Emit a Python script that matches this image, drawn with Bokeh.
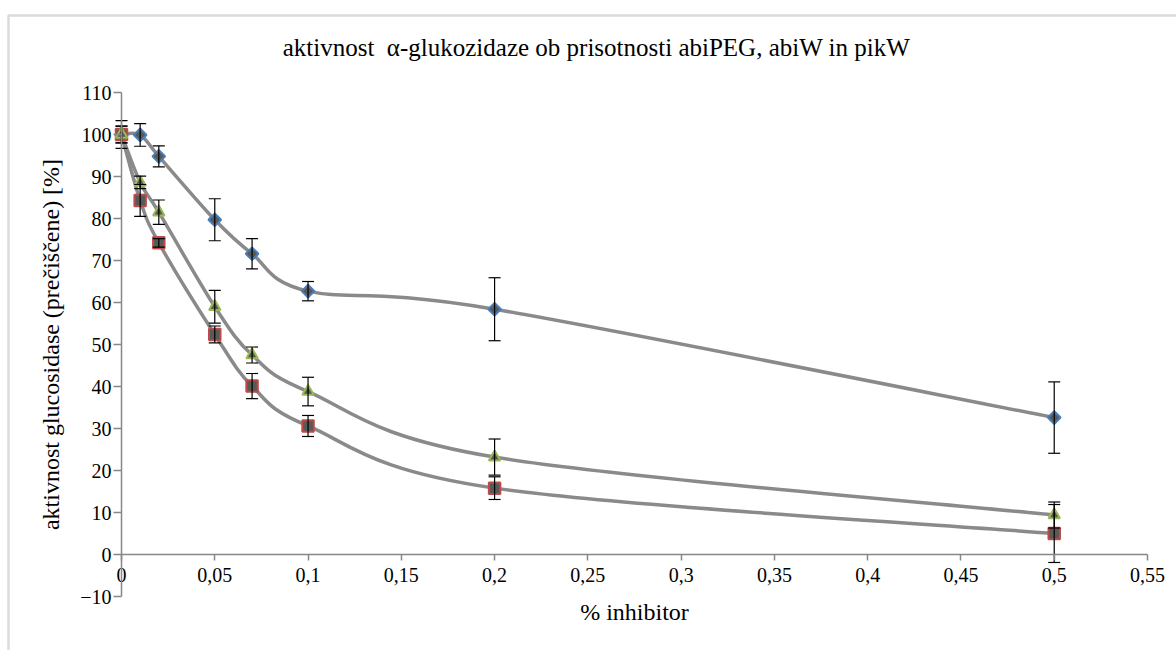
import numpy as np
from bokeh.plotting import figure
from bokeh.models import (Range1d, LinearAxis, FixedTicker, ColumnDataSource,
                          Whisker, TeeHead, Label, BoxAnnotation)
from bokeh.embed import file_html
from bokeh.resources import INLINE

# ---------------- data ----------------
x_vals = [0, 0.01, 0.02, 0.05, 0.07, 0.1, 0.2, 0.5]

abipeg = [100, 99.9, 94.8, 79.7, 71.6, 62.7, 58.4, 32.6]
abipeg_err = [3.3, 2.7, 2.5, 5.0, 3.6, 2.3, 7.5, 8.5]

abiw = [100, 84.3, 74.2, 52.4, 40.1, 30.6, 15.8, 5.0]
abiw_err = [2.0, 3.8, 1.0, 2.0, 3.0, 2.5, 2.7, 6.9]

pikw = [100, 88.6, 81.5, 59.0, 47.5, 38.8, 23.2, 9.4]
pikw_err = [2.0, 1.5, 2.9, 3.9, 1.9, 3.4, 4.3, 3.1]

x_ticks = [0, 0.05, 0.1, 0.15, 0.2, 0.25, 0.3, 0.35, 0.4, 0.45, 0.5, 0.55]
x_tick_labels = ["0", "0,05", "0,1", "0,15", "0,2", "0,25", "0,3", "0,35",
                 "0,4", "0,45", "0,5", "0,55"]
y_ticks = [-10, 0, 10, 20, 30, 40, 50, 60, 70, 80, 90, 100, 110]

title_text = "aktivnost\u00a0 \u03b1-glukozidaze ob prisotnosti abiPEG, abiW in pikW"
x_label = "% inhibitor"
y_label = "aktivnost glucosidase (pre\u010di\u0161\u010dene) [%]"

FONT = "Liberation Serif"
AXIS_GRAY = "#878787"
LINE_GRAY = "#8a8a8a"
FILL = "#595959"

# ---------------- layout (pixel anchors of the plot area) ----------------
W, H = 1176, 650
X0_PX, X1_PX = 121.0, 1147.0      # pixel of x=0 and x=0.55
Y0_PX, Y1_PX = 596.0, 92.0        # pixel of y=-10 and y=110
XMIN, XMAX, YMIN, YMAX = 0.0, 0.55, -10.0, 110.0
sx = (X1_PX - X0_PX) / (XMAX - XMIN)
sy = (Y0_PX - Y1_PX) / (YMAX - YMIN)
x_lo = XMIN - X0_PX / sx
x_hi = XMAX + (W - X1_PX) / sx
y_hi = YMAX + Y1_PX / sy
y_lo = YMIN - (H - Y0_PX) / sy

p = figure(width=W, height=H, output_backend="svg", toolbar_location=None,
           x_range=Range1d(x_lo, x_hi), y_range=Range1d(y_lo, y_hi),
           x_axis_location=None, y_axis_location=None,
           min_border=0, min_border_left=0, min_border_right=0,
           min_border_top=0, min_border_bottom=0)
p.grid.visible = False
p.outline_line_color = None
p.background_fill_color = "white"
p.border_fill_color = "white"


def style_axis(ax, tick_out):
    ax.axis_label_text_font = FONT
    ax.axis_label_text_font_size = "24px"
    ax.axis_label_text_font_style = "normal"
    ax.axis_label_text_color = "#000000"
    ax.major_label_text_font = FONT
    ax.major_label_text_font_size = "20px"
    ax.major_label_text_color = "#000000"
    ax.axis_line_color = AXIS_GRAY
    ax.axis_line_width = 1.5
    ax.major_tick_line_color = AXIS_GRAY
    ax.major_tick_line_width = 1.5
    ax.major_tick_in = 0
    ax.major_tick_out = tick_out
    ax.minor_tick_line_color = None


# y axis at x = 0
yax = LinearAxis(fixed_location=0, bounds=(YMIN, YMAX),
                 ticker=FixedTicker(ticks=y_ticks), axis_label=y_label)
style_axis(yax, 8)
yax.major_label_standoff = 2
yax.axis_label_standoff = 13
p.add_layout(yax, "left")

# x axis at y = 0
xax = LinearAxis(fixed_location=0, bounds=(XMIN, XMAX),
                 ticker=FixedTicker(ticks=x_ticks),
                 major_label_overrides=dict(zip(x_ticks, x_tick_labels)),
                 axis_label=x_label)
style_axis(xax, 6)
xax.major_label_standoff = 7
xax.axis_label_standoff = 14
p.add_layout(xax, "below")

# title
title = Label(x=XMIN + (596 - X0_PX) / sx, y=YMAX + (92 - 47) / sy,
              text=title_text, text_align="center", text_baseline="middle",
              text_font=FONT, text_font_size="25px", text_color="#000000")
p.add_layout(title)


# ---------------- smoothed lines (Catmull-Rom bezier through the points) ----
def bezier_source(xs, ys):
    pts = np.column_stack([xs, ys]).astype(float)
    ext = np.vstack([pts[0], pts, pts[-1]])
    d = dict(x0=[], y0=[], x1=[], y1=[], cx0=[], cy0=[], cx1=[], cy1=[])
    for i in range(len(pts) - 1):
        p0, p1, p2, p3 = ext[i], ext[i + 1], ext[i + 2], ext[i + 3]
        c1 = p1 + (p2 - p0) / 6.0
        c2 = p2 - (p3 - p1) / 6.0
        d["x0"].append(p1[0]); d["y0"].append(p1[1])
        d["x1"].append(p2[0]); d["y1"].append(p2[1])
        d["cx0"].append(c1[0]); d["cy0"].append(c1[1])
        d["cx1"].append(c2[0]); d["cy1"].append(c2[1])
    return ColumnDataSource(d)


series = [
    (abipeg, abipeg_err, "square", 9, np.pi / 4, "#4a7ebb"),
    (abiw, abiw_err, "square", 11.5, 0.0, "#be4b48"),
    (pikw, pikw_err, "triangle", 11.5, 0.0, "#98b954"),
]

for ys, _, _, _, _, _ in series:
    p.bezier(x0="x0", y0="y0", x1="x1", y1="y1", cx0="cx0", cy0="cy0",
             cx1="cx1", cy1="cy1", source=bezier_source(x_vals, ys),
             line_color=LINE_GRAY, line_width=3.5)

for ys, err, _, _, _, _ in series:
    src = ColumnDataSource(dict(
        base=x_vals,
        upper=[y + e for y, e in zip(ys, err)],
        lower=[y - e for y, e in zip(ys, err)],
    ))
    w = Whisker(base="base", upper="upper", lower="lower", source=src,
                line_color="black", line_width=1.2,
                upper_head=TeeHead(size=12, line_color="black", line_width=1.2),
                lower_head=TeeHead(size=12, line_color="black", line_width=1.2),
                level="glyph")
    p.add_layout(w)

for ys, _, marker, size, angle, col in series:
    p.scatter(x=x_vals, y=ys, marker=marker, size=size, angle=angle,
              fill_color=FILL, line_color=col, line_width=2)

# outer chart border
border = BoxAnnotation(left=8, right=1400, top=15, bottom=900,
                       left_units="canvas", right_units="canvas",
                       top_units="canvas", bottom_units="canvas",
                       fill_alpha=0, fill_color=None,
                       line_color="#888888", line_width=2.5, level="overlay")
p.add_layout(border)

open("out.html", "w").write(file_html(p, INLINE))
